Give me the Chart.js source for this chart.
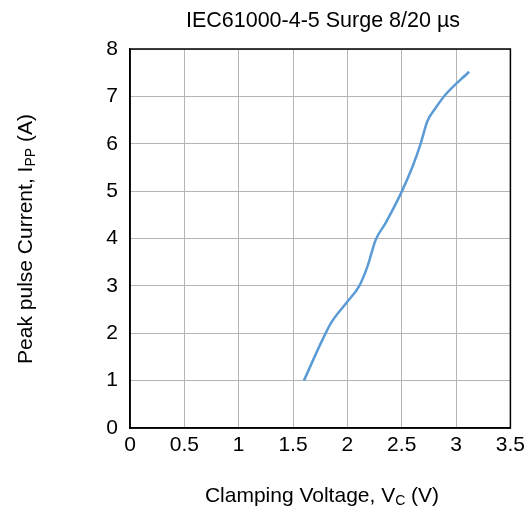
<!DOCTYPE html>
<html>
<head>
<meta charset="utf-8">
<script src="https://cdn.jsdelivr.net/npm/chart.js@4"></script>
<style>
  html, body { margin: 0; padding: 0; background: #fff; }
  #wrap { width: 530px; height: 512px; position: relative; }
</style>
</head>
<body>
<div id="wrap"><canvas id="surgeChart"></canvas></div>
<script>
// curve
const clampVoltage = [1.6, 1.77, 1.85, 1.99, 2.11, 2.185, 2.26, 2.35, 2.5, 2.6, 2.675, 2.735, 2.81, 2.9, 3.12];
const peakCurrent  = [1.0, 1.86, 2.22, 2.64, 3.0, 3.41, 3.97, 4.32, 4.99, 5.52, 6.01, 6.47, 6.75, 7.03, 7.52];
const xTicks = [0, 0.5, 1, 1.5, 2, 2.5, 3, 3.5];
const yTicks = [0, 1, 2, 3, 4, 5, 6, 7, 8];

const FONT = '"Liberation Sans", Arial, sans-serif';

// draws the title and the two axis titles (they have subscripts)
const labelsPlugin = {
  id: 'labels',
  afterDraw(chart) {
    const ctx = chart.ctx;
    ctx.save();
    ctx.fillStyle = '#000';
    ctx.textBaseline = 'alphabetic';

    ctx.font = '21.5px ' + FONT;
    ctx.textAlign = 'center';
    ctx.fillText('IEC61000-4-5 Surge 8/20 µs', 323, 27);

    const drawSub = (parts, cx, cy) => {
      let total = 0;
      parts.forEach(p => {
        ctx.font = (p.sub ? '14px ' : '21px ') + FONT;
        total += ctx.measureText(p.t).width;
      });
      let x = cx - total / 2;
      ctx.textAlign = 'left';
      parts.forEach(p => {
        ctx.font = (p.sub ? '14px ' : '21px ') + FONT;
        ctx.fillText(p.t, x, cy + (p.sub ? 3 : 0));
        x += ctx.measureText(p.t).width;
      });
    };

    drawSub([{ t: 'Clamping Voltage, V' }, { t: 'C', sub: true }, { t: ' (V)' }], 322, 502);

    ctx.translate(32, 239);
    ctx.rotate(-Math.PI / 2);
    drawSub([{ t: 'Peak pulse Current, I' }, { t: 'PP', sub: true }, { t: ' (A)' }], 0, 0);
    ctx.restore();
  }
};

new Chart(document.getElementById('surgeChart'), {
  type: 'scatter',
  data: {
    datasets: [{
      data: clampVoltage.map((v, i) => ({ x: v, y: peakCurrent[i] })),
      showLine: true,
      borderColor: '#5b9bd5',
      borderWidth: 2.5,
      pointRadius: 0,
      cubicInterpolationMode: 'monotone',
      fill: false,
    }],
  },
  options: {
    responsive: true,
    maintainAspectRatio: false,
    animation: false,
    layout: { padding: { top: 49, right: 18, left: 0, bottom: 0 } },
    plugins: { legend: { display: false }, tooltip: { enabled: false } },
    scales: {
      x: {
        type: 'linear',
        min: 0,
        max: 3.5,
        afterBuildTicks: s => { s.ticks = xTicks.map(v => ({ value: v })); },
        afterFit: s => { s.height = 84; },
        grid: { color: '#b4b4b4', lineWidth: 1, drawTicks: false },
        border: { color: '#000', width: 1.5 },
        ticks: { color: '#000', font: { family: FONT, size: 21 }, padding: 5, maxRotation: 0, callback: v => String(v) },
      },
      y: {
        type: 'linear',
        min: 0,
        max: 8,
        afterBuildTicks: s => { s.ticks = yTicks.map(v => ({ value: v })); },
        afterFit: s => { s.width = 130; },
        grid: { color: '#b4b4b4', lineWidth: 1, drawTicks: false },
        border: { color: '#000', width: 1.5 },
        ticks: { color: '#000', font: { family: FONT, size: 21 }, padding: 12, callback: v => String(v) },
      },
    },
  },
  plugins: [labelsPlugin, {
    id: 'frame',
    afterDraw(chart) {
      const { ctx, chartArea: a } = chart;
      ctx.save();
      ctx.strokeStyle = '#000';
      ctx.lineWidth = 1.5;
      ctx.strokeRect(a.left, a.top, a.right - a.left, a.bottom - a.top);
      ctx.restore();
    }
  }],
});
</script>
</body>
</html>
